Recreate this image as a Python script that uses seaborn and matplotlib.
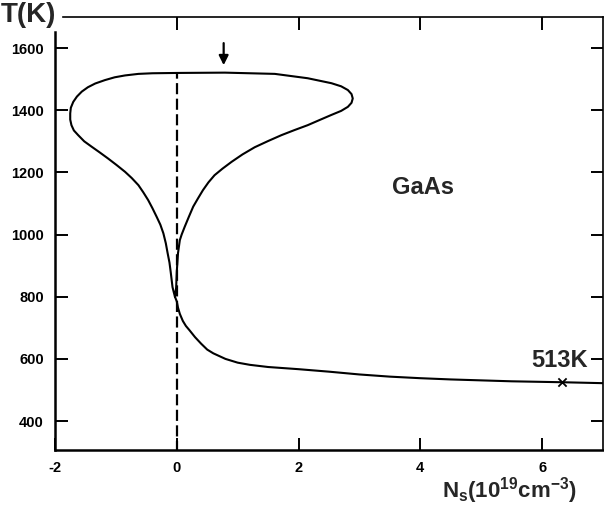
import matplotlib
matplotlib.use("Agg")
import matplotlib.pyplot as plt
import seaborn as sns
import pandas as pd

# ---- data ----
# one continuous curve: tail (right -> cusp), left branch up, left lobe,
# top edge, right tip, right branch down to the cusp
curve_x = [7.00, 6.33, 5.50, 5.00, 4.50, 4.00, 3.50, 3.00, 2.50, 2.00, 1.50, 1.20,
           1.00, 0.80, 0.60, 0.50, 0.40, 0.30, 0.21, 0.15, 0.10, 0.05, 0.02, 0.00,
           -0.03,
           -0.05, -0.07, -0.10, -0.12, -0.15, -0.18, -0.22, -0.27, -0.33, -0.40,
           -0.47, -0.55, -0.63, -0.74, -0.85, -0.99, -1.13, -1.27, -1.40, -1.52,
           -1.62, -1.69, -1.73, -1.75, -1.75, -1.74, -1.70, -1.64, -1.56, -1.46,
           -1.34, -1.18, -1.02, -0.85, -0.63, -0.40, 0.00,
           0.79, 1.61, 2.15, 2.54, 2.70, 2.81, 2.87, 2.89, 2.87, 2.81, 2.70, 2.54,
           2.35, 2.15, 1.93, 1.72, 1.50, 1.28, 1.08, 0.90, 0.75, 0.62, 0.52, 0.43,
           0.35, 0.27, 0.20, 0.13, 0.08, 0.05, 0.02, 0.00, -0.01, -0.03]
curve_T = [522, 525, 528, 531, 534, 538, 543, 550, 559, 567, 574, 581,
           588, 600, 618, 630, 649, 670, 692, 706, 722, 745, 765, 785,
           800,
           815, 831, 880, 910, 940, 972, 1004, 1032, 1057, 1085,
           1111, 1136, 1159, 1182, 1202, 1224, 1245, 1265, 1283, 1300,
           1320, 1335, 1352, 1370, 1390, 1408, 1427, 1444, 1460, 1474,
           1486, 1497, 1506, 1512, 1517, 1519, 1520,
           1521, 1517, 1503, 1487, 1477, 1465, 1452, 1438, 1424, 1411, 1398, 1385,
           1369, 1352, 1336, 1320, 1301, 1281, 1258, 1234, 1212, 1191, 1168, 1143,
           1117, 1090, 1058, 1025, 1000, 982, 940, 880, 830, 800]

dash_x = [0, 0]
dash_T = [300, 1520]

mark_x = [6.33]
mark_T = [525]

arrow_x = 0.77
arrow_T = [1616, 1545]

x_ticks = [-2, 0, 2, 4, 6]
y_ticks = [400, 600, 800, 1000, 1200, 1400, 1600]
x_lim = (-2, 7)
y_lim = (307, 1700)

df = pd.DataFrame({"N": curve_x, "T": curve_T})

sns.set_theme(style="ticks")
plt.rcParams["font.family"] = ["Liberation Sans", "DejaVu Sans"]
plt.rcParams["mathtext.fontset"] = "custom"
plt.rcParams["mathtext.rm"] = "Liberation Sans:bold"
plt.rcParams["mathtext.bf"] = "Liberation Sans:bold"

fig = plt.figure(figsize=(6.04, 5.05), dpi=100)
ax = fig.add_axes([55 / 604, 1 - 450 / 505, 548 / 604, 433 / 505])

sns.lineplot(data=df, x="N", y="T", sort=False, estimator=None, color="black",
             lw=1.5, ax=ax, solid_joinstyle="round", solid_capstyle="round")
ax.plot(dash_x, dash_T, color="black", lw=1.6, dashes=[5, 2])
sns.scatterplot(x=mark_x, y=mark_T, marker="x", color="black", s=35,
                linewidth=1.3, ax=ax, zorder=5)

ax.annotate("", xy=(arrow_x, arrow_T[1]), xytext=(arrow_x, arrow_T[0]),
            arrowprops=dict(arrowstyle="-|>", color="black", lw=1.6,
                            mutation_scale=14, shrinkA=0, shrinkB=0))

ax.text(4.05, 1150, "GaAs", fontsize=17, fontweight="bold",
        ha="center", va="center")
ax.text(6.28, 596, "513K", fontsize=17, fontweight="bold",
        ha="center", va="center")

ax.set_xlim(*x_lim)
ax.set_ylim(*y_lim)
ax.set_xticks(x_ticks)
ax.set_yticks(y_ticks)
ax.set_xticklabels([str(v) for v in x_ticks], fontweight="bold")
ax.set_yticklabels([str(v) for v in y_ticks], fontweight="bold")
ax.tick_params(direction="in", length=9, width=1.4, top=True, right=True,
               labelsize=10.5, pad=8, colors="black")
ax.xaxis.get_major_ticks()[0].tick2line.set_visible(False)

for side, lw in [("left", 1.8), ("bottom", 1.8), ("top", 1.2), ("right", 1.2)]:
    ax.spines[side].set_linewidth(lw)
    ax.spines[side].set_color("black")
ax.spines["left"].set_bounds(y_lim[0], 1652)
ax.spines["top"].set_bounds(-1.87, x_lim[1])

ax.set_xlabel(r"N$_\mathregular{s}$(10$^\mathregular{19}$cm$^\mathregular{-3}$)",
              fontsize=16, fontweight="bold")
ax.xaxis.set_label_coords(0.83, -0.058)
ax.set_ylabel("T(K)", fontsize=20, fontweight="bold", rotation=0,
              ha="center", va="center")
ax.yaxis.set_label_coords(-0.049, 1.005)

fig.savefig("out.png", dpi=100)
